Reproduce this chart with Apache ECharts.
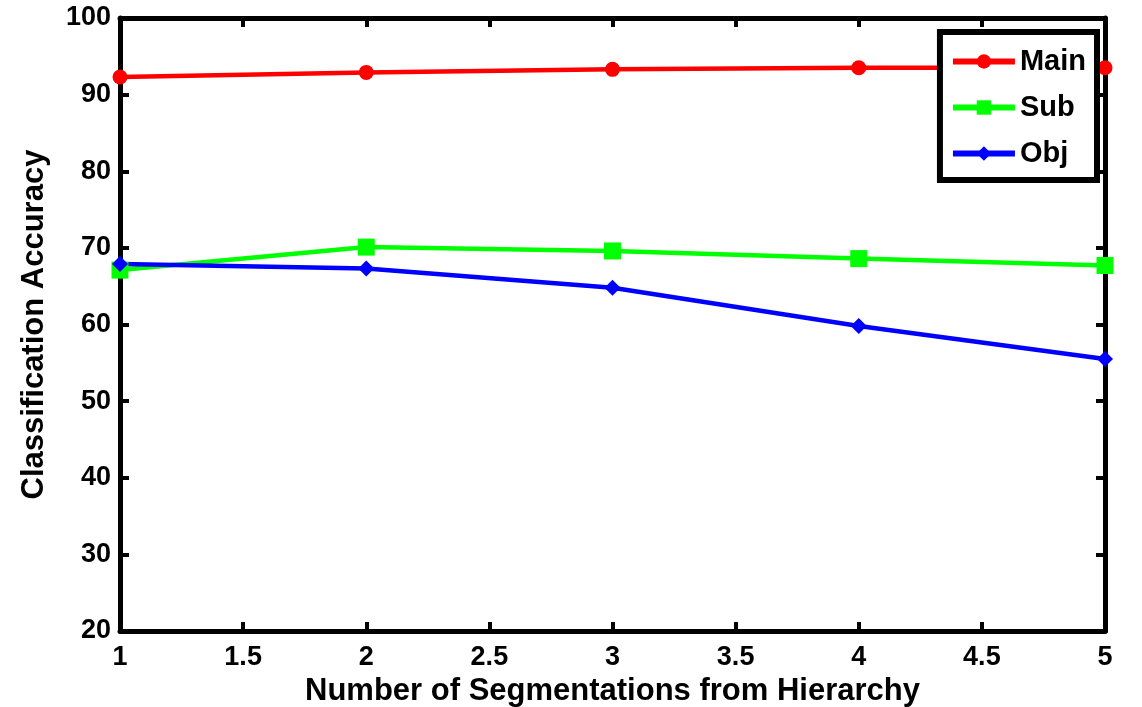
<!DOCTYPE html>
<html><head><meta charset="utf-8">
<script src="https://cdn.jsdelivr.net/npm/echarts@6/dist/echarts.min.js"></script>
<style>html,body{margin:0;padding:0;background:#fff}#c{width:1142px;height:707px}</style>
</head><body><div id="c"></div>
<script>
const xValues = [1, 2, 3, 4, 5];
const mainAcc = [92.3, 92.9, 93.3, 93.5, 93.5];
const subAcc = [67.1, 70.1, 69.6, 68.6, 67.7];
const objAcc = [67.9, 67.3, 64.8, 59.8, 55.5];
const seriesNames = ['Main', 'Sub', 'Obj'];
const seriesColors = ['#ff0000', '#00ff00', '#0000ff'];
const seriesSymbols = ['circle', 'rect', 'diamond'];
const seriesSizes = [15, 17, 16];
const xTitle = 'Number of Segmentations from Hierarchy';
const yTitle = 'Classification Accuracy';

const FONT = 'Liberation Sans';
const chart = echarts.init(document.getElementById('c'), null, {renderer: 'canvas'});
const allData = [mainAcc, subAcc, objAcc];
const axisLine = {show: true, lineStyle: {color: '#000', width: 5}};
const tick = {show: true, inside: true, length: 9, lineStyle: {color: '#000', width: 4}};
const lbl = {color: '#000', fontFamily: FONT, fontWeight: 'bold', fontSize: 27};
const titleStyle = {color: '#000', fontFamily: FONT, fontWeight: 'bold', fontSize: 31};
const option = {
  animation: false,
  backgroundColor: '#fff',
  grid: {left: 120, right: 37, top: 18, bottom: 76, containLabel: false, outerBoundsMode: 'none'},
  xAxis: [
    {type: 'value', min: 1, max: 5, interval: 0.5, position: 'bottom',
     axisLine, axisTick: tick, splitLine: {show: false},
     axisLabel: Object.assign({margin: 13, formatter: v => String(v)}, lbl),
     name: xTitle, nameLocation: 'middle', nameGap: 42, nameTextStyle: titleStyle},
    {type: 'value', min: 1, max: 5, interval: 0.5, position: 'top',
     axisLine, axisTick: tick, splitLine: {show: false}, axisLabel: {show: false}}
  ],
  yAxis: [
    {type: 'value', min: 20, max: 100, interval: 10, position: 'left',
     axisLine, axisTick: tick, splitLine: {show: false},
     axisLabel: Object.assign({margin: 9}, lbl),
     name: yTitle, nameLocation: 'middle', nameGap: 70, nameRotate: 90, nameTextStyle: titleStyle},
    {type: 'value', min: 20, max: 100, interval: 10, position: 'right',
     axisLine, axisTick: tick, splitLine: {show: false}, axisLabel: {show: false}}
  ],
  legend: {
    orient: 'vertical', right: 45, top: 32,
    backgroundColor: '#fff', borderColor: '#000', borderWidth: 6,
    padding: [15, 11, 12, 10], itemGap: 17, itemWidth: 62, itemHeight: 18,
    lineStyle: {width: 6},
    textStyle: {color: '#000', fontFamily: FONT, fontWeight: 'bold', fontSize: 29},
    data: seriesNames
  },
  series: seriesNames.map((n, i) => ({
    name: n, type: 'line', xAxisIndex: 0, yAxisIndex: 0,
    data: xValues.map((x, j) => [x, allData[i][j]]),
    symbol: seriesSymbols[i], symbolSize: seriesSizes[i], showSymbol: true,
    lineStyle: {color: seriesColors[i], width: 4.5},
    itemStyle: {color: seriesColors[i]},
    clip: false, z: 3
  }))
};
chart.setOption(option);
</script></body></html>
